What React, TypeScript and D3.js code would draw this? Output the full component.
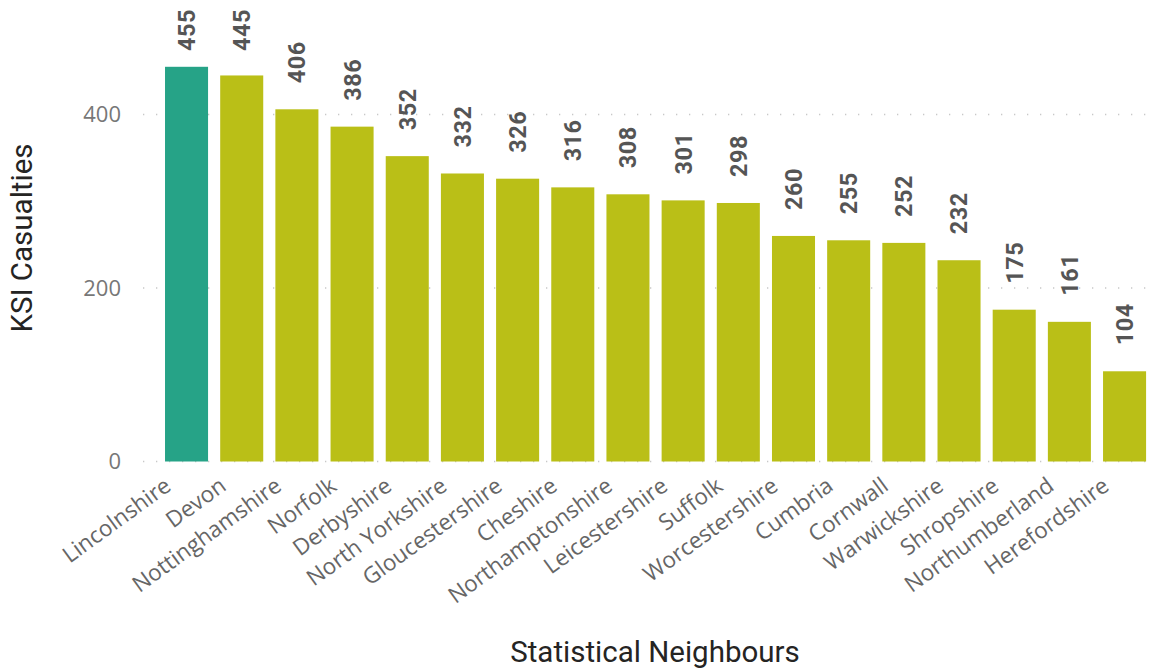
import React from "react";
import * as d3 from "d3";

const categories = [
  "Lincolnshire", "Devon", "Nottinghamshire", "Norfolk", "Derbyshire", "North Yorkshire",
  "Gloucestershire", "Cheshire", "Northamptonshire", "Leicestershire", "Suffolk",
  "Worcestershire", "Cumbria", "Cornwall", "Warwickshire", "Shropshire", "Northumberland",
  "Herefordshire",
];
const values = [455, 445, 406, 386, 352, 332, 326, 316, 308, 301, 298, 260, 255, 252, 232, 175, 161, 104];
const highlighted = ["Lincolnshire"];
const yTicks = [0, 200, 400];

const W = 1159;
const H = 671;

export default function App() {
  const x = d3.scaleBand<string>().domain(categories).range([159.5, 1151.6]).paddingInner(0.22).paddingOuter(0.1);
  const y = d3.scaleLinear().domain([0, 400]).range([461.5, 114.5]);
  const labelLen = 41;
  return (
    <svg width={W} height={H} style={{ position: "absolute", left: 0, top: 0, background: "#fff" }}>
      {yTicks.map((t) => (
        <g key={t}>
          <line x1={143} x2={1152} y1={y(t)} y2={y(t)} stroke="#c8c8c8" strokeWidth={1.3} strokeDasharray="1.3,11.7" />
          <text x={121} y={y(t)} dy="0.35em" textAnchor="end" fontFamily="'Open Sans', sans-serif" fontSize={22} fill="#777">
            {t}
          </text>
        </g>
      ))}
      {categories.map((c, i) => {
        const bx = x(c)!;
        const top = y(values[i]);
        const cx = bx + x.bandwidth() / 2;
        const start = Math.max(top - 26, 10 + labelLen);
        return (
          <g key={c}>
            <rect x={bx} y={top} width={x.bandwidth()} height={y(0) - top} fill={highlighted.includes(c) ? "#26A387" : "#BABF17"} />
            <text
              transform={`translate(${cx},${start}) rotate(-90)`}
              dy="0.36em"
              textAnchor="start"
              fontFamily="Roboto, sans-serif"
              fontWeight="bold"
              fontSize={23.5}
              letterSpacing={0.5}
              fill="#555"
            >
              {values[i]}
            </text>
            <text
              transform={`translate(${cx - 14},${489}) rotate(-36)`}
              textAnchor="end"
              fontFamily="'Open Sans', sans-serif"
              fontSize={22.5}
              fill="#666"
            >
              {c}
            </text>
          </g>
        );
      })}
      <text transform="translate(32,238) rotate(-90)" textAnchor="middle" fontFamily="Roboto, sans-serif" fontSize={29.5} fill="#252423">
        KSI Casualties
      </text>
      <text x={655} y={662} textAnchor="middle" fontFamily="Roboto, sans-serif" fontSize={29.5} fill="#252423">
        Statistical Neighbours
      </text>
    </svg>
  );
}
